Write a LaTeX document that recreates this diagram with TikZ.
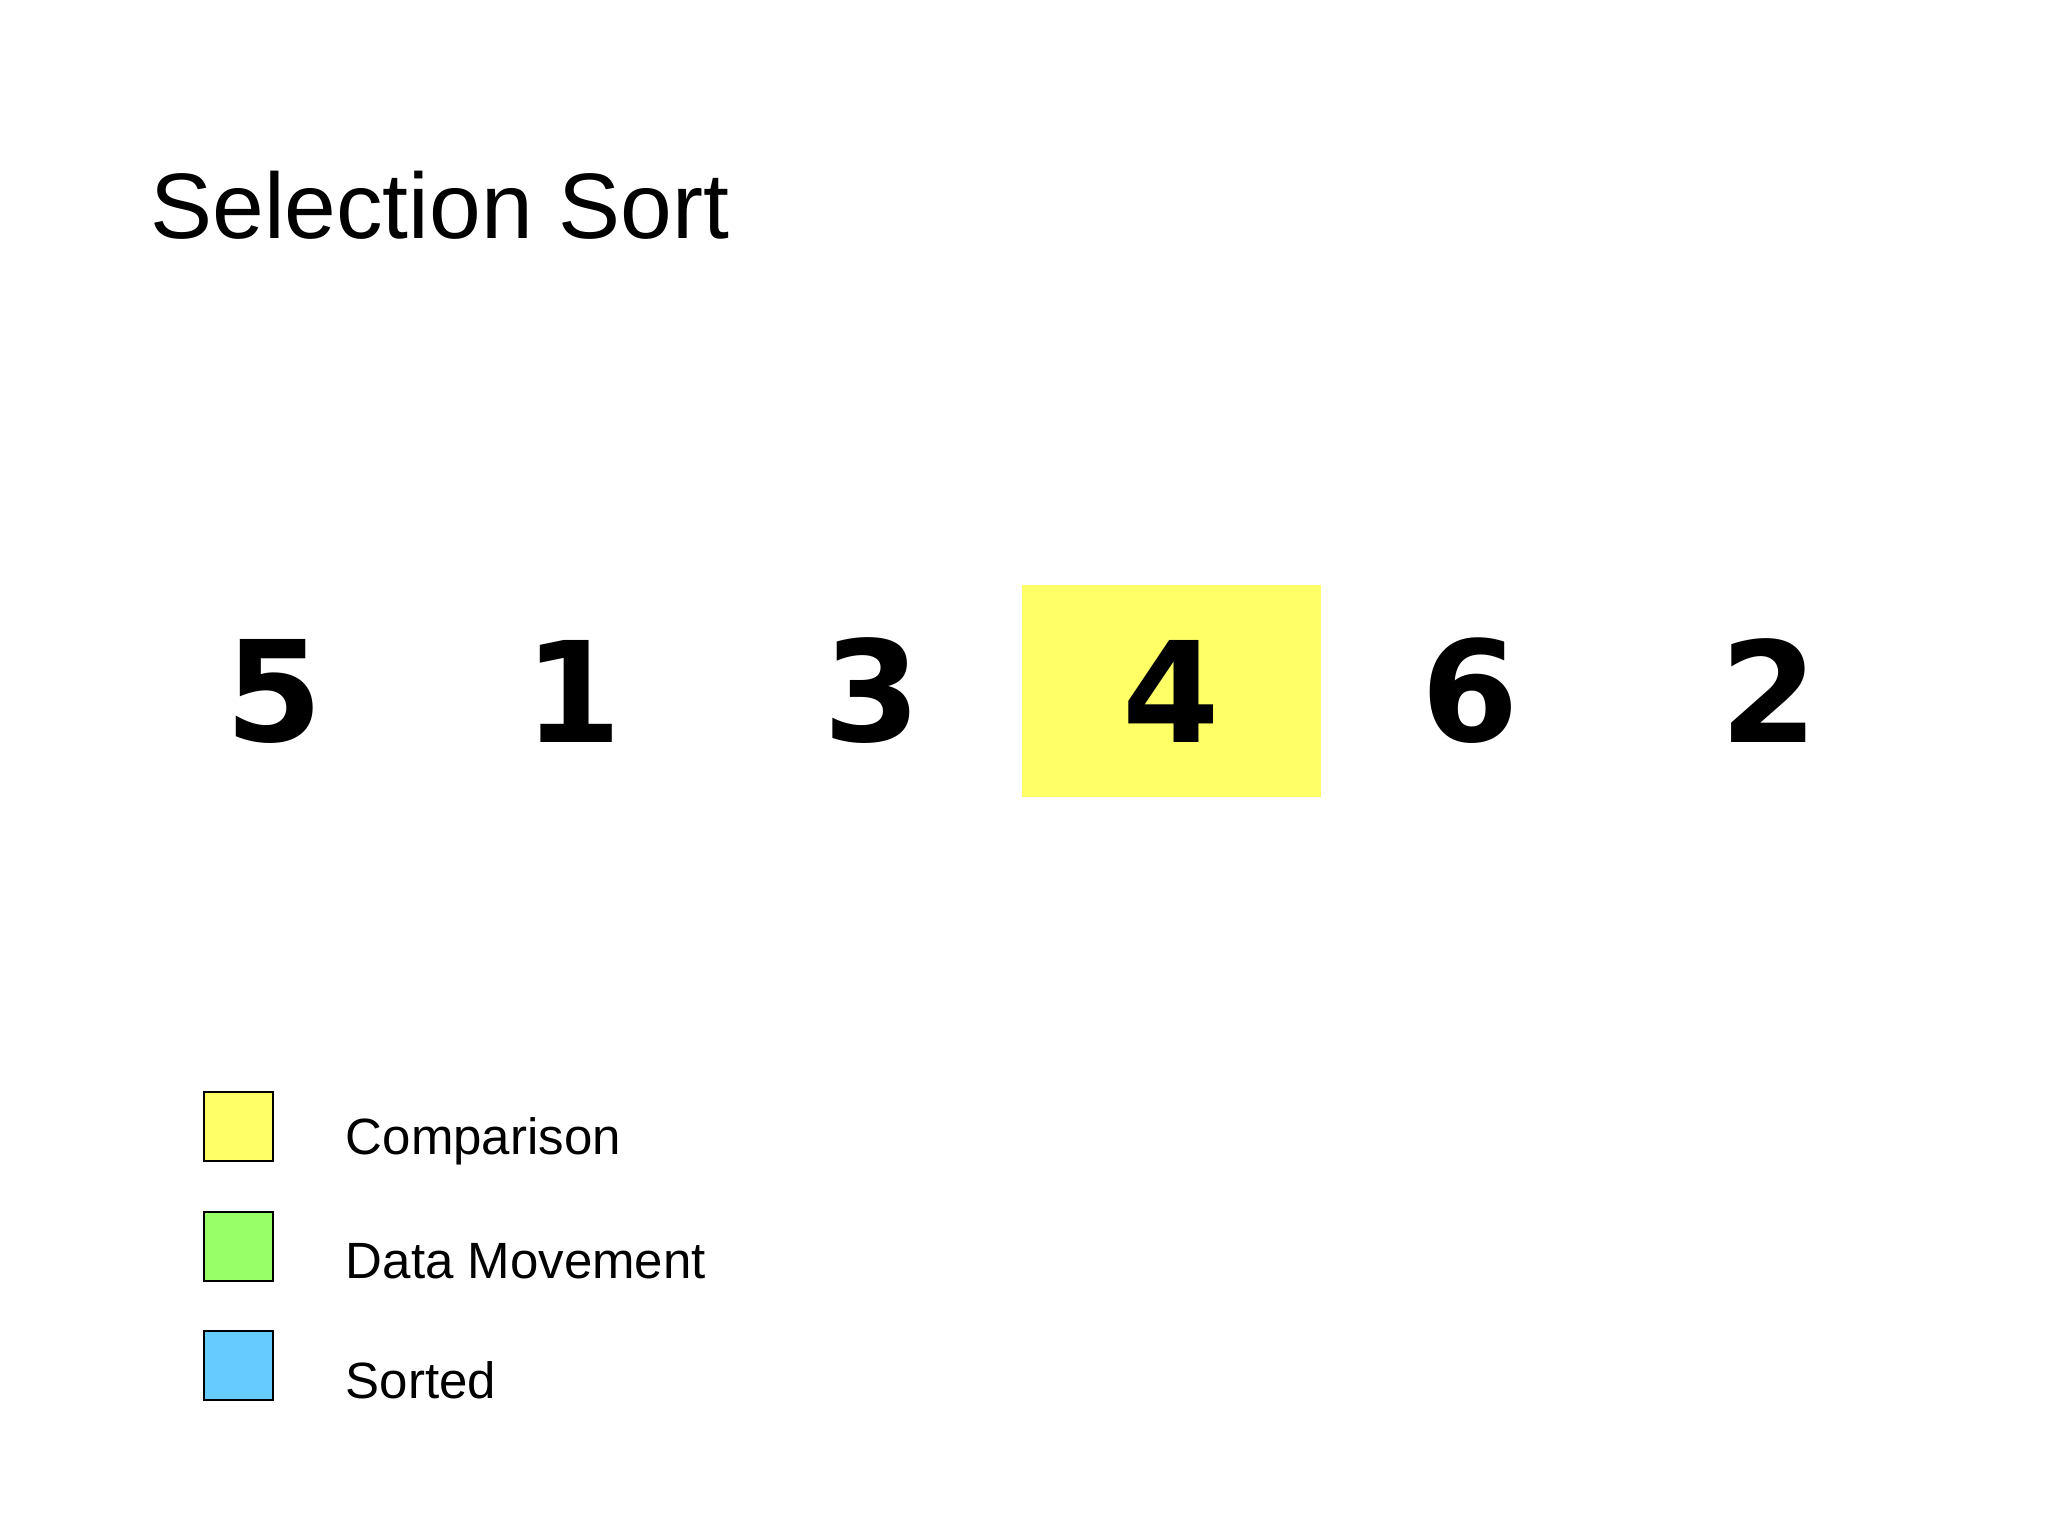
\documentclass[tikz,border=0pt]{standalone}
\usepackage{fontspec}
\setmainfont{Liberation Sans}
\newfontfamily\digitfont{DejaVu Sans}
\definecolor{cmpyellow}{HTML}{FFFF66}
\definecolor{movegreen}{HTML}{99FF66}
\definecolor{sortblue}{HTML}{66CCFF}
\begin{document}
\begin{tikzpicture}[x=0.5pt,y=-0.5pt,
  cell/.style={inner sep=0pt, minimum width=149.5pt, minimum height=106pt, font=\digitfont\bfseries\fontsize{70pt}{70pt}\selectfont},
  legbox/.style={draw=black, line width=1pt, minimum width=34.5pt, minimum height=34.5pt, inner sep=0pt},
  legtext/.style={anchor=base west, inner sep=0pt, font=\fontsize{25.5pt}{25.5pt}\selectfont}]
\useasboundingbox (0,0) rectangle (2048,1536);
\fill[white] (0,0) rectangle (2048,1536);
\node[anchor=base west, inner sep=0pt, font=\fontsize{46.5pt}{46.5pt}\selectfont] (title) at (150,238) {Selection Sort};
\node[cell] (c1) at (274.5,691) {5};
\node[cell] (c2) at (573.5,691) {1};
\node[cell] (c3) at (872.5,691) {3};
\node[cell, fill=cmpyellow] (c4) at (1171.5,691) {4};
\node[cell] (c5) at (1470.5,691) {6};
\node[cell] (c6) at (1769.5,691) {2};
\node[legbox, fill=cmpyellow] (k1) at (238.5,1126.5) {};
\node[legbox, fill=movegreen] (k2) at (238.5,1246) {};
\node[legbox, fill=sortblue] (k3) at (238.5,1365) {};
\node[legtext] (t1) at (345.5,1154) {Comparison};
\node[legtext] (t2) at (345.5,1278) {Data Movement};
\node[legtext] (t3) at (345.5,1398) {Sorted};
\end{tikzpicture}
\end{document}
